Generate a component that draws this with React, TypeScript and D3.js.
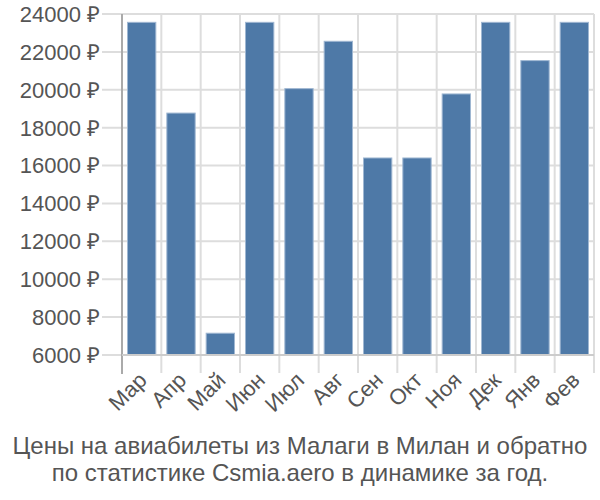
import React from "react";
import * as d3 from "d3";

const months = ["Мар", "Апр", "Май", "Июн", "Июл", "Авг", "Сен", "Окт", "Ноя", "Дек", "Янв", "Фев"];
const prices = [23560, 18770, 7150, 23560, 20060, 22560, 16400, 16400, 19780, 23560, 21540, 23560];
const yTicks = [6000, 8000, 10000, 12000, 14000, 16000, 18000, 20000, 22000, 24000];
const captionLines = [
  "Цены на авиабилеты из Малаги в Милан и обратно",
  "по статистике Csmia.aero в динамике за год.",
];

const W = 600, H = 500;
const left = 122, right = 594, top = 14, bottom = 355;
const font = "'Liberation Sans', Arial, sans-serif";

export default function App() {
  const x = d3.scaleBand<string>().domain(months).range([left, right]).padding(0);
  const y = d3.scaleLinear().domain([6000, 24000]).range([bottom, top]);
  const bw = x.bandwidth();
  const inset = bw * 0.14;
  return (
    <svg width={W} height={H} style={{ position: "absolute", left: 0, top: 0 }}>
      <rect width={W} height={H} fill="#fff" />
      {yTicks.map((t) => (
        <g key={t}>
          <line x1={left - 20} x2={right} y1={y(t)} y2={y(t)} stroke="#dddddd" strokeWidth={2} />
          <text x={100} y={y(t)} dy="0.36em" textAnchor="end" fontFamily={font} fontSize={22} fill="#555">
            {t} ₽
          </text>
        </g>
      ))}
      {months.map((m) => (
        <line key={m} x1={x(m)!} x2={x(m)!} y1={top} y2={bottom + 18} stroke="#dddddd" strokeWidth={2} />
      ))}
      <line x1={right} x2={right} y1={top} y2={bottom + 18} stroke="#dddddd" strokeWidth={2} />
      {months.map((m, i) => (
        <rect
          key={m}
          x={x(m)! + inset}
          y={y(prices[i])}
          width={bw - 2 * inset}
          height={bottom - y(prices[i])}
          fill="#4e79a7"
          stroke="#9fb7d2"
          strokeWidth={1}
        />
      ))}
      <line x1={left} x2={left} y1={top} y2={bottom + 19} stroke="#aaaaaa" strokeWidth={2} />
      <line x1={left} x2={right} y1={bottom} y2={bottom} stroke="#cccccc" strokeWidth={2} />
      {months.map((m) => {
        const cx = x(m)! + bw / 2 + 1;
        const cy = bottom + 21;
        return (
          <text
            key={m}
            transform={`translate(${cx},${cy}) rotate(-45)`}
            textAnchor="end"
            dy="0.36em"
            fontFamily={font}
            fontSize={22}
            fill="#555"
          >
            {m}
          </text>
        );
      })}
      {captionLines.map((l, i) => (
        <text key={i} x={W / 2} y={454 + i * 27} textAnchor="middle" fontFamily={font} fontSize={24} fill="#555">
          {l}
        </text>
      ))}
    </svg>
  );
}
